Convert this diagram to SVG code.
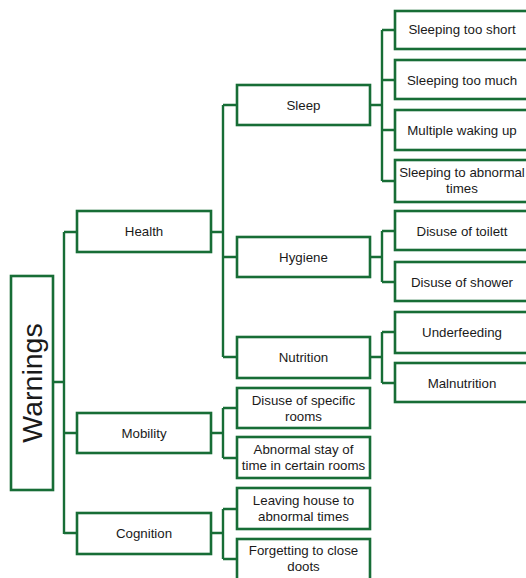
<svg xmlns="http://www.w3.org/2000/svg" width="526" height="578" viewBox="0 0 526 578">
<style>
.box{fill:#fff;stroke:#176d36;stroke-width:2.6}
.ln{fill:none;stroke:#176d36;stroke-width:2.4}
text{font-family:"Liberation Sans",Arial,sans-serif;font-size:13.3px;fill:#1a1a1a;text-anchor:middle}
.big{font-size:28.5px}
</style>
<rect width="526" height="578" fill="#fff"/>
<g id="connectors" class="ln">
<path d="M53 382H64M64 232V534M64 232H77M64 433H77M64 533H77"/>
<path d="M211 232H223M223 105V357M223 105H237M223 257H237M223 357H237"/>
<path d="M211 433H223M223 408V458M223 408H237M223 458H237"/>
<path d="M211 533H223M223 509V559M223 509H237M223 559H237"/>
<path d="M370 105H382M382 30V181M382 30H395M382 80H395M382 130H395M382 181H395"/>
<path d="M370 257H382M382 231V282M382 231H395M382 282H395"/>
<path d="M370 357H382M382 332V383M382 332H395M382 383H395"/>
</g>
<g id="warnings"><rect class="box" x="11" y="276" width="42" height="214"/><text class="big" transform="translate(42 383) rotate(-90)">Warnings</text></g>
<g id="health"><rect class="box" x="77" y="211" width="134" height="41"/><text x="144" y="236">Health</text></g>
<g id="mobility"><rect class="box" x="77" y="413" width="134" height="40"/><text x="144" y="438">Mobility</text></g>
<g id="cognition"><rect class="box" x="77" y="513" width="134" height="41"/><text x="144" y="538">Cognition</text></g>
<g id="sleep"><rect class="box" x="237" y="85" width="133" height="40"/><text x="303.5" y="110">Sleep</text></g>
<g id="hygiene"><rect class="box" x="237" y="237" width="133" height="40"/><text x="303.5" y="262">Hygiene</text></g>
<g id="nutrition"><rect class="box" x="237" y="337" width="133" height="41"/><text x="303.5" y="362">Nutrition</text></g>
<g id="disuse-rooms"><rect class="box" x="237" y="388" width="133" height="40"/><text x="303.5" y="404.5">Disuse of specific</text><text x="303.5" y="420.5">rooms</text></g>
<g id="abnormal-stay"><rect class="box" x="237" y="437" width="133" height="41"/><text x="303.5" y="454">Abnormal stay of</text><text x="303.5" y="470">time in certain rooms</text></g>
<g id="leaving-house"><rect class="box" x="237" y="488" width="133" height="41"/><text x="303.5" y="505">Leaving house to</text><text x="303.5" y="521">abnormal times</text></g>
<g id="forgetting"><rect class="box" x="237" y="539" width="133" height="42"/><text x="303.5" y="555">Forgetting to close</text><text x="303.5" y="571">doots</text></g>
<g id="too-short"><rect class="box" x="395" y="11" width="133" height="38"/><text x="462" y="34">Sleeping too short</text></g>
<g id="too-much"><rect class="box" x="395" y="60" width="133" height="39"/><text x="462" y="85">Sleeping too much</text></g>
<g id="waking-up"><rect class="box" x="395" y="110" width="133" height="40"/><text x="462" y="135">Multiple waking up</text></g>
<g id="abnormal-times"><rect class="box" x="395" y="160" width="133" height="42"/><text x="462" y="177">Sleeping to abnormal</text><text x="462" y="193">times</text></g>
<g id="toilett"><rect class="box" x="395" y="211" width="133" height="39"/><text x="462" y="236">Disuse of toilett</text></g>
<g id="shower"><rect class="box" x="395" y="262" width="133" height="39"/><text x="462" y="287">Disuse of shower</text></g>
<g id="underfeeding"><rect class="box" x="395" y="312" width="133" height="41"/><text x="462" y="337">Underfeeding</text></g>
<g id="malnutrition"><rect class="box" x="395" y="363" width="133" height="39"/><text x="462" y="388">Malnutrition</text></g>
</svg>
